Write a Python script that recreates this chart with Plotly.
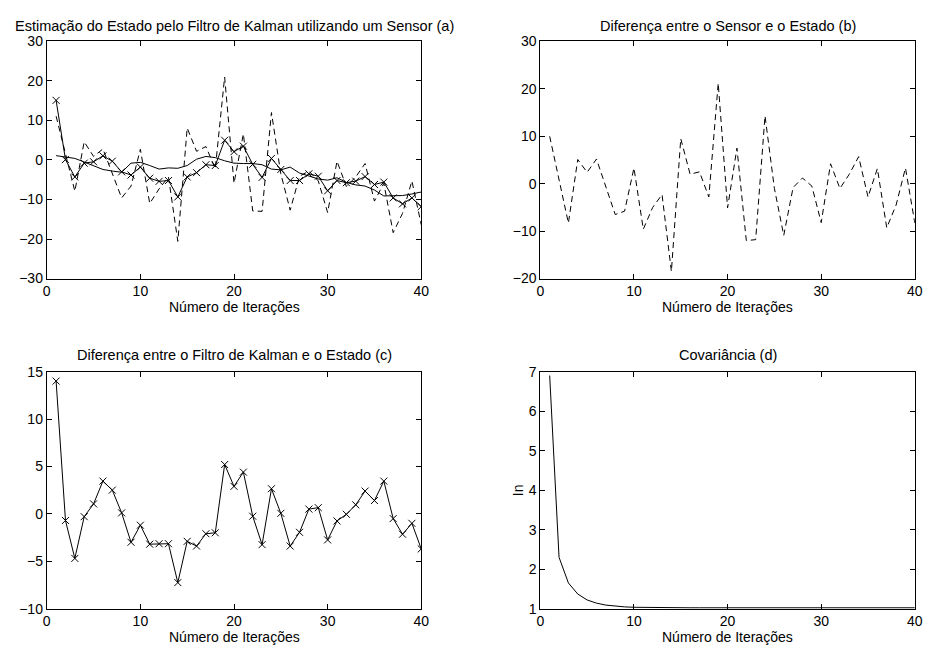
import plotly.graph_objects as go

# ---------------- data ----------------
iteracoes = list(range(1, 41))

estado = [1.1, 0.8, 0.4, -0.5, -1.5, -2.4, -2.8, -3.1, -0.8, -0.6,
          -1.4, -2.3, -2.0, -2.1, -1.4, 0.2, 0.9, 0.6, -0.2, -0.8,
          -0.9, -0.9, -1.2, -2.3, -2.5, -1.8, -3.3, -4.0, -4.8, -5.1,
          -4.5, -5.7, -6.3, -6.6, -7.6, -9.1, -9.1, -9.0, -8.6, -8.1]

sensor = [11.1, 1.8, -7.9, 4.6, 0.9, 2.8, -3.3, -9.6, -6.6, 2.7,
          -11.0, -7.3, -4.3, -20.6, 8.1, 2.2, 3.4, -2.2, 21.0, -5.9,
          6.6, -12.9, -13.0, 12.0, -3.5, -12.7, -4.1, -2.8, -5.3, -13.3,
          -0.3, -6.7, -4.3, -0.9, -10.4, -5.9, -18.4, -13.5, -5.3, -16.4]

kalman = [15.1, 0.1, -4.3, -0.8, -0.45, 1.05, -0.3, -3.0, -3.8, -1.8,
          -4.6, -5.4, -5.2, -9.35, -4.3, -3.2, -1.2, -1.4, 5.0, 2.1,
          3.5, -1.1, -4.4, 0.4, -2.4, -5.2, -5.2, -3.5, -4.1, -7.8,
          -5.2, -5.75, -5.35, -4.2, -6.2, -5.6, -9.6, -11.1, -9.6, -11.8]

dif_sensor = [10.0, 1.0, -8.3, 5.1, 2.4, 5.2, -0.5, -6.5, -5.8, 3.3,
              -9.6, -5.0, -2.3, -18.5, 9.5, 2.0, 2.5, -2.8, 21.2, -5.1,
              7.5, -12.0, -11.8, 14.3, -1.0, -10.9, -0.8, 1.2, -0.5, -8.2,
              4.2, -1.0, 2.0, 5.7, -2.8, 3.2, -9.3, -4.5, 3.3, -8.3]

dif_kalman = [14.0, -0.7, -4.7, -0.3, 1.05, 3.45, 2.5, 0.1, -3.0, -1.2,
              -3.2, -3.15, -3.15, -7.25, -2.9, -3.4, -2.1, -2.0, 5.2, 2.9,
              4.4, -0.25, -3.25, 2.65, 0.05, -3.4, -1.95, 0.5, 0.65, -2.75,
              -0.75, -0.05, 0.95, 2.4, 1.4, 3.45, -0.5, -2.15, -1.0, -3.7]

covariancia = [6.9, 2.3, 1.65, 1.37, 1.22, 1.14, 1.09, 1.06, 1.045, 1.035,
               1.03, 1.027, 1.025, 1.024, 1.023, 1.022, 1.022, 1.022, 1.022, 1.022,
               1.022, 1.022, 1.022, 1.022, 1.022, 1.022, 1.022, 1.022, 1.022, 1.022,
               1.022, 1.022, 1.022, 1.022, 1.022, 1.022, 1.022, 1.022, 1.022, 1.022]

x_ticks = [0, 10, 20, 30, 40]
y_ticks_a = [-30, -20, -10, 0, 10, 20, 30]
y_ticks_b = [-20, -10, 0, 10, 20, 30]
y_ticks_c = [-10, -5, 0, 5, 10, 15]
y_ticks_d = [1, 2, 3, 4, 5, 6, 7]

titulos = ["Estimação do Estado pelo Filtro de Kalman utilizando um Sensor (a)",
           "Diferença entre o Sensor e o Estado (b)",
           "Diferença entre o Filtro de Kalman e o Estado (c)",
           "Covariância (d)"]
rotulo_x = "Número de Iterações"
rotulo_y_d = "In"

# ---------------- layout geometry ----------------
W, H = 933, 655
FONT = "Liberation Sans, Arial, Helvetica, sans-serif"
x_left = [43.3 / W, 422.7 / W]
x_right = [543.3 / W, 922.7 / W]
y_top = [1 - 277.3 / H, 1 - 34.3 / H]
y_bot = [1 - 615.7 / H, 1 - 372.7 / H]

line_style = dict(color="black", width=1)
x_marker = dict(symbol="x-thin", size=7, color="black", line=dict(width=1, color="black"))
dash_style = dict(color="black", width=1, dash="6px,4px")

fig = go.Figure()

# (a)
fig.add_trace(go.Scatter(x=iteracoes, y=sensor, mode="lines", line=dash_style,
                         xaxis="x", yaxis="y", showlegend=False))
fig.add_trace(go.Scatter(x=iteracoes, y=estado, mode="lines", line=line_style,
                         xaxis="x", yaxis="y", showlegend=False))
fig.add_trace(go.Scatter(x=iteracoes, y=kalman, mode="lines+markers", line=line_style,
                         marker=x_marker, xaxis="x", yaxis="y", showlegend=False))
# (b)
fig.add_trace(go.Scatter(x=iteracoes, y=dif_sensor, mode="lines", line=dash_style,
                         xaxis="x2", yaxis="y2", showlegend=False))
# (c)
fig.add_trace(go.Scatter(x=iteracoes, y=dif_kalman, mode="lines+markers", line=line_style,
                         marker=x_marker, xaxis="x3", yaxis="y3", showlegend=False))
# (d)
fig.add_trace(go.Scatter(x=iteracoes, y=covariancia, mode="lines", line=line_style,
                         xaxis="x4", yaxis="y4", showlegend=False))


def ax(domain, rng, ticks, anchor):
    return dict(domain=domain, range=rng, tickvals=ticks, anchor=anchor,
                showline=True, linecolor="black", linewidth=1, mirror="ticks",
                ticks="inside", ticklen=5, tickcolor="black", tickwidth=1,
                showgrid=False, zeroline=False,
                tickfont=dict(family=FONT, size=14, color="black"))


fig.update_layout(
    width=W, height=H, margin=dict(l=0, r=0, t=0, b=0),
    paper_bgcolor="white", plot_bgcolor="white",
    xaxis=ax(x_left, [0, 40], x_ticks, "y"),
    yaxis=ax(y_top, [-30, 30], y_ticks_a, "x"),
    xaxis2=ax(x_right, [0, 40], x_ticks, "y2"),
    yaxis2=ax(y_top, [-20, 30], y_ticks_b, "x2"),
    xaxis3=ax(x_left, [0, 40], x_ticks, "y3"),
    yaxis3=ax(y_bot, [-10, 15], y_ticks_c, "x3"),
    xaxis4=ax(x_right, [0, 40], x_ticks, "y4"),
    yaxis4=ax(y_bot, [1, 7], y_ticks_d, "x4"),
)

ann = []
cx_l = (x_left[0] + x_left[1]) / 2
cx_r = (x_right[0] + x_right[1]) / 2
title_pos = [(cx_l, 18), (cx_r, 18), (cx_l, 356), (cx_r, 356)]
for t, (cx, py) in zip(titulos, title_pos):
    ann.append(dict(text=t, x=cx, y=1 - py / H, xref="paper", yref="paper",
                    xanchor="center", yanchor="middle", showarrow=False,
                    font=dict(family=FONT, size=14.5, color="black")))
for cx, py in [(cx_l, 306), (cx_r, 306), (cx_l, 645), (cx_r, 645)]:
    ann.append(dict(text=rotulo_x, x=cx, y=1 - py / H, xref="paper", yref="paper",
                    xanchor="center", yanchor="middle", showarrow=False,
                    font=dict(family=FONT, size=14, color="black")))
ann.append(dict(text=rotulo_y_d, x=521 / W, y=1 - 494 / H, xref="paper", yref="paper",
                xanchor="center", yanchor="middle", showarrow=False, textangle=-90,
                font=dict(family=FONT, size=14, color="black")))
fig.update_layout(annotations=ann)

fig.write_html("out.html")
